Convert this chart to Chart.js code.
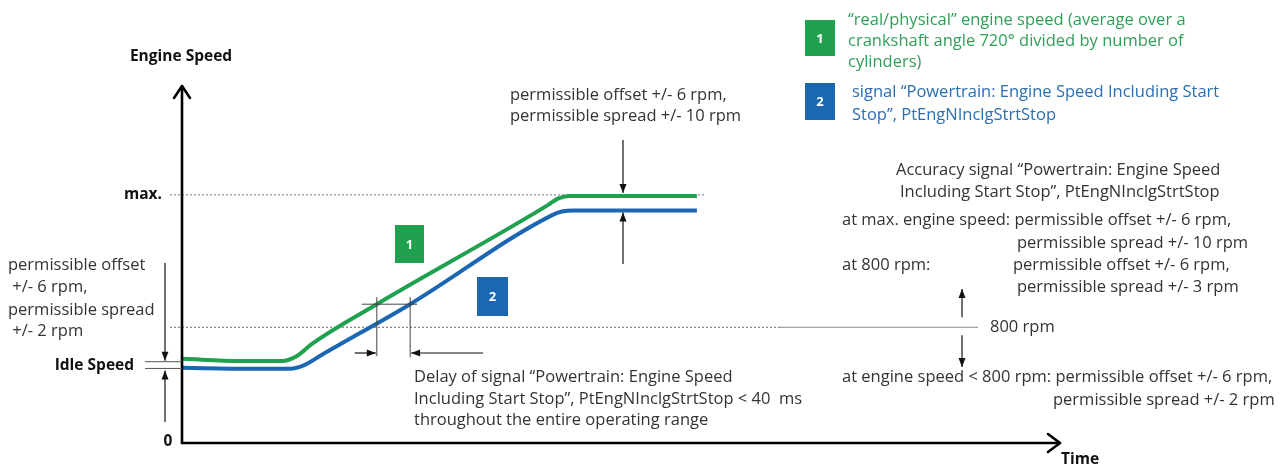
<!DOCTYPE html>
<html><head><meta charset="utf-8">
<script src="https://cdn.jsdelivr.net/npm/chart.js@4/dist/chart.umd.min.js"></script>
<style>html,body{margin:0;padding:0;background:#fff;overflow:hidden}#wrap{width:1287px;height:470px;position:relative}</style>
</head><body><div id="wrap"><canvas id="c"></canvas></div>
<script>
// ---- data (arbitrary normalised units: time 0..100, engine speed 0..100) ----
const timeGreen  = [0, 6.5, 11.3, 13.0, 14.7, 22.1, 41.6, 42.8, 44.1, 58.6];
const speedGreen = [23.7, 23.1, 23.1, 24.5, 27.9, 39.1, 67.0, 68.9, 69.6, 69.6];
const timeBlue   = [0, 7.6, 12.2, 13.9, 15.8, 25.9, 42.1, 43.2, 44.6, 58.6];
const speedBlue  = [21.2, 20.9, 20.9, 22.0, 24.8, 39.1, 64.2, 65.2, 65.5, 65.5];
const maxLevel = 69.9;
const level800 = 32.6;
const idleLevels = [22.9, 21.0];
const delayLevel = 39.1;
const delayTimes = [22.1, 25.9];
const seriesLabels = ['1', '2'];

const GREEN = '#20a150', BLUE = '#1b67b2';
const F = "'Open Sans', sans-serif";
const R = '16.5px ' + F;

function pts(xs, ys){ return xs.map((x,i)=>({x:x, y:ys[i]})); }

function txt(ctx, s, x, y, opt){
  opt = opt || {};
  ctx.save();
  ctx.font = opt.font || R;
  ctx.fillStyle = opt.color || '#333';
  ctx.textAlign = opt.align || 'left';
  ctx.textBaseline = 'middle';
  ctx.fillText(s, x, y);
  ctx.restore();
}
function ln(ctx, x1, y1, x2, y2, opt){
  opt = opt || {};
  ctx.save();
  ctx.strokeStyle = opt.color || '#222';
  ctx.lineWidth = opt.w || 1;
  if (opt.dash) ctx.setLineDash(opt.dash);
  ctx.beginPath(); ctx.moveTo(x1, y1); ctx.lineTo(x2, y2); ctx.stroke();
  ctx.restore();
}
function arrow(ctx, x1, y1, x2, y2){
  ln(ctx, x1, y1, x2, y2, {w:1.2, color:'#111'});
  const a = Math.atan2(y2-y1, x2-x1), L = 9, W = 3.5;
  ctx.save();
  ctx.fillStyle = '#111';
  ctx.beginPath();
  ctx.moveTo(x2, y2);
  ctx.lineTo(x2 - L*Math.cos(a) + W*Math.sin(a), y2 - L*Math.sin(a) - W*Math.cos(a));
  ctx.lineTo(x2 - L*Math.cos(a) - W*Math.sin(a), y2 - L*Math.sin(a) + W*Math.cos(a));
  ctx.closePath(); ctx.fill();
  ctx.restore();
}
function box(ctx, x, y, w, h, color, label){
  ctx.save(); ctx.fillStyle = color; ctx.fillRect(x, y, w, h); ctx.restore();
  txt(ctx, label, x + w/2, y + h/2 + 1, {font:'bold 13px ' + F, color:'#fff', align:'center'});
}

const refPlugin = {
  id: 'refLines',
  beforeDatasetsDraw(chart){
    const ctx = chart.ctx, ys = chart.scales.y;
    const yMax = ys.getPixelForValue(maxLevel), y800 = ys.getPixelForValue(level800);
    ln(ctx, 170, yMax, 705, yMax, {color:'#777', dash:[2,2]});
    ln(ctx, 170, y800, 780, y800, {color:'#666', dash:[2,2]});
    ln(ctx, 780, y800, 978, y800, {color:'#888'});
  },
  afterDatasetsDraw(chart){
    const ctx = chart.ctx, ca = chart.chartArea, xs = chart.scales.x, ys = chart.scales.y;
    const ax = ca.left - 1, ay = ca.bottom;
    // axes
    ctx.save();
    ctx.strokeStyle = '#000'; ctx.lineWidth = 2.6; ctx.lineCap = 'round'; ctx.lineJoin = 'round';
    ctx.beginPath(); ctx.moveTo(ax, ay); ctx.lineTo(ax, 86); ctx.stroke();
    ctx.beginPath(); ctx.moveTo(ax-8, 98); ctx.lineTo(ax, 86); ctx.lineTo(ax+8, 98); ctx.stroke();
    ctx.beginPath(); ctx.moveTo(ax, ay); ctx.lineTo(1060, ay); ctx.stroke();
    ctx.beginPath(); ctx.moveTo(1048, ay-9); ctx.lineTo(1060, ay); ctx.lineTo(1048, ay+9); ctx.stroke();
    ctx.restore();

    const B = 'bold 15.5px ' + F;
    txt(ctx, 'Engine Speed', 181, 57, {font:B, color:'#111', align:'center'});
    txt(ctx, 'max.', 162, ys.getPixelForValue(maxLevel), {font:B, color:'#111', align:'right'});
    txt(ctx, '0', 168, ay - 1, {font:B, color:'#111', align:'center'});
    txt(ctx, 'Time', 1080, 460, {font:B, color:'#111', align:'center'});
    txt(ctx, 'Idle Speed', 134, 366, {font:B, color:'#111', align:'right'});

    // idle speed markers
    idleLevels.forEach(v => { const y = ys.getPixelForValue(v); ln(ctx, 145, y, ax, y, {color:'#555'}); });
    arrow(ctx, 165, 263, 165, ys.getPixelForValue(idleLevels[0]) - 1);
    arrow(ctx, 165, 422, 165, ys.getPixelForValue(idleLevels[1]) + 2);

    // left annotation
    txt(ctx, 'permissible offset', 8, 265);
    txt(ctx, ' +/- 6 rpm,', 8, 287);
    txt(ctx, 'permissible spread', 8, 310);
    txt(ctx, ' +/- 2 rpm', 8, 331);

    // top annotation at max speed
    txt(ctx, 'permissible offset +/- 6 rpm,', 510, 95);
    txt(ctx, 'permissible spread +/- 10 rpm', 510, 116);
    arrow(ctx, 623, 140, 623, ys.getPixelForValue(speedGreen[speedGreen.length-1]) - 3);
    arrow(ctx, 623, 264, 623, ys.getPixelForValue(speedBlue[speedBlue.length-1]) + 2);

    // series number boxes
    box(ctx, 395, 225, 29, 38, GREEN, seriesLabels[0]);
    box(ctx, 477, 277, 31, 39, BLUE, seriesLabels[1]);

    // delay markers
    const yd = ys.getPixelForValue(delayLevel);
    const xg = xs.getPixelForValue(delayTimes[0]), xb = xs.getPixelForValue(delayTimes[1]);
    ln(ctx, xg - 15, yd, xb + 7, yd, {color:'#444'});
    ln(ctx, xg, yd - 7, xg, yd + 52, {color:'#444'});
    ln(ctx, xb, yd - 7, xb, yd + 53, {color:'#444'});
    arrow(ctx, xg - 22, 353, xg - 1, 353);
    arrow(ctx, xb + 73, 353, xb + 1, 353);
    txt(ctx, 'Delay of signal \u201cPowertrain: Engine Speed', 414, 377);
    txt(ctx, 'Including Start Stop\u201d, PtEngNInclgStrtStop < 40  ms', 414, 399);
    txt(ctx, 'throughout the entire operating range', 414, 420);

    // legend
    box(ctx, 805, 20, 30, 36, GREEN, seriesLabels[0]);
    box(ctx, 805, 83, 30, 37, BLUE, seriesLabels[1]);
    const LG = '#2f9e57', LB = '#2a6fb0';
    txt(ctx, '\u201creal/physical\u201d engine speed (average over a', 848, 20, {color:LG});
    txt(ctx, 'crankshaft angle 720\u00b0 divided by number of', 848, 41, {color:LG});
    txt(ctx, 'cylinders)', 848, 62, {color:LG});
    txt(ctx, 'signal \u201cPowertrain: Engine Speed Including Start', 852, 92, {color:LB});
    txt(ctx, 'Stop\u201d, PtEngNInclgStrtStop', 852, 115, {color:LB});

    // right block
    txt(ctx, 'Accuracy signal \u201cPowertrain: Engine Speed', 896, 170);
    txt(ctx, 'Including Start Stop\u201d, PtEngNInclgStrtStop', 900, 192);
    txt(ctx, 'at max. engine speed: permissible offset +/- 6 rpm,', 842, 220);
    txt(ctx, 'permissible spread +/- 10 rpm', 1017, 243);
    txt(ctx, 'at 800 rpm:', 842, 265);
    txt(ctx, 'permissible offset +/- 6 rpm,', 1013, 265);
    txt(ctx, 'permissible spread +/- 3 rpm', 1017, 287);
    const y800 = ys.getPixelForValue(level800);
    txt(ctx, '800 rpm', 990, y800);
    arrow(ctx, 962, y800 - 10, 962, 289);
    arrow(ctx, 962, y800 + 8, 962, 367);
    txt(ctx, 'at engine speed < 800 rpm: permissible offset +/- 6 rpm,', 842, 377);
    txt(ctx, 'permissible spread +/- 2 rpm', 1053, 400);
  }
};

new Chart(document.getElementById('c'), {
  type: 'line',
  data: {
    datasets: [
      {label: 'real/physical engine speed', data: pts(timeGreen, speedGreen), borderColor: GREEN, borderWidth: 4, pointRadius: 0, cubicInterpolationMode: 'monotone', fill: false, borderJoinStyle: 'round', borderCapStyle: 'butt'},
      {label: 'PtEngNInclgStrtStop', data: pts(timeBlue, speedBlue), borderColor: BLUE, borderWidth: 4, pointRadius: 0, cubicInterpolationMode: 'monotone', fill: false, borderJoinStyle: 'round', borderCapStyle: 'butt'}
    ]
  },
  options: {
    responsive: true, maintainAspectRatio: false, animation: false,
    layout: {padding: {left: 183, right: 227, top: 88, bottom: 27}},
    scales: {
      x: {type: 'linear', min: 0, max: 100, display: false},
      y: {type: 'linear', min: 0, max: 100, display: false}
    },
    plugins: {legend: {display: false}, tooltip: {enabled: false}}
  },
  plugins: [refPlugin]
});
</script>
</body></html>
